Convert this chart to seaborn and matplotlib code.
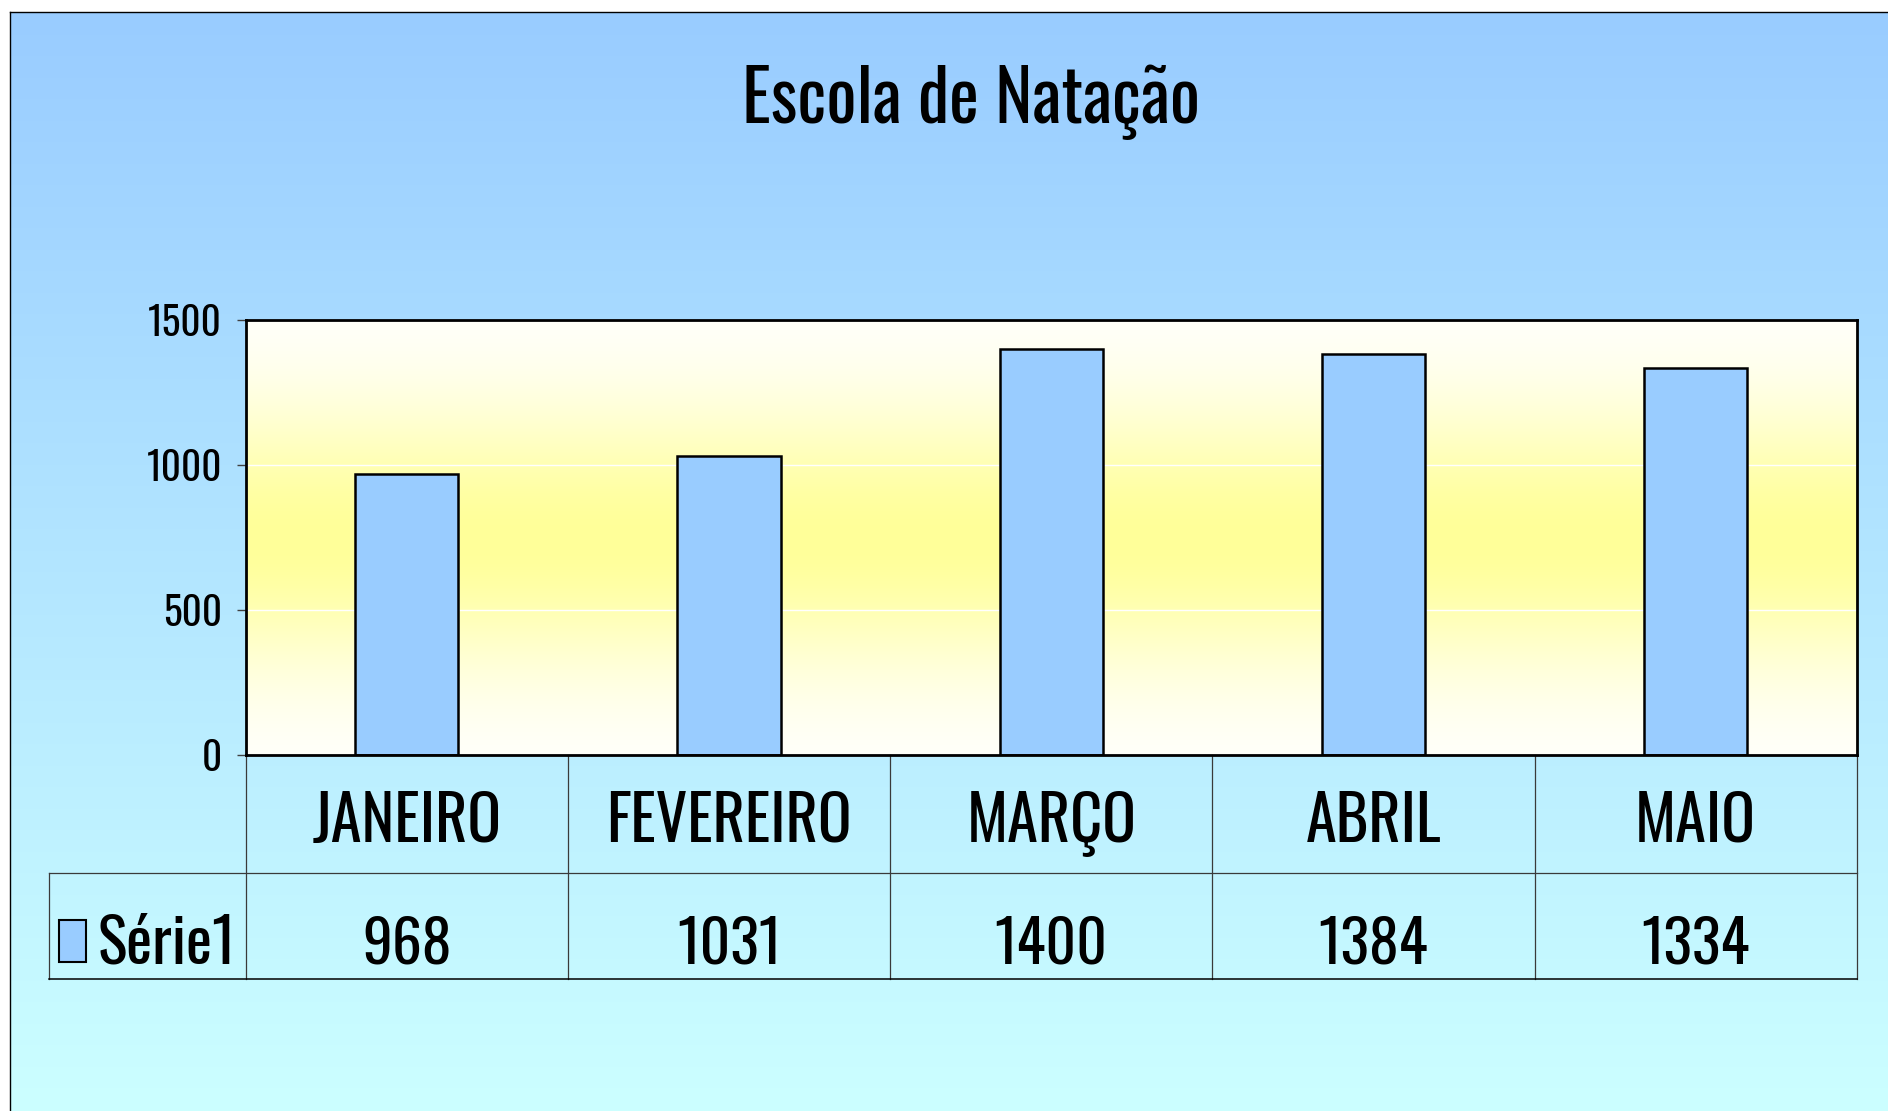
import numpy as np
import matplotlib
matplotlib.use("Agg")
import matplotlib.pyplot as plt
from matplotlib.transforms import blended_transform_factory
from matplotlib.patches import Rectangle
from matplotlib.font_manager import FontProperties, fontManager
from matplotlib.textpath import TextPath
import seaborn as sns
import pandas as pd

# ---- data ----
months = ["JANEIRO", "FEVEREIRO", "MARÇO", "ABRIL", "MAIO"]
values = [968, 1031, 1400, 1384, 1334]
series_name = "Série1"
title = "Escola de Natação"
yticks = [0, 500, 1000, 1500]

# ---- font: a narrow sans ----
available = {f.name for f in fontManager.ttflist}
prefs = ["Oswald", "Sofia Sans Extra Condensed", "Fira Sans Extra Condensed",
         "Barlow Condensed", "Roboto Condensed", "IBM Plex Sans Condensed", "DejaVu Sans"]
main_font = next(p for p in prefs if p in available)
FONT = [main_font, "DejaVu Sans"]
WEIGHT = 300 if main_font == "Oswald" else "normal"
plt.rcParams["font.family"] = FONT
plt.rcParams["font.weight"] = WEIGHT

PX = 100 / 72.0


def fit(text, tw, th, hchar=None):
    fp = FontProperties(family=FONT, weight=WEIGHT)
    w = TextPath((0, 0), text, size=100, prop=fp).get_extents().width * PX
    h = TextPath((0, 0), hchar or text, size=100, prop=fp).get_extents().height * PX
    return 100 * np.sqrt((tw / w) * (th / h))


W, H = 1888, 1111
fig = plt.figure(figsize=(W / 100, H / 100), dpi=100)
fig.patch.set_facecolor("white")

# ---- figure background gradient ----
bg = fig.add_axes([10 / W, 0, 1 - 10 / W, (H - 12) / H], zorder=0)
top_c = np.array([153, 204, 255]) / 255
bot_c = np.array([204, 255, 255]) / 255
s = np.linspace(0, 1, 512)[:, None]
grad = top_c[None, :] * (1 - s) + bot_c[None, :] * s
bg.imshow(grad[:, None, :], aspect="auto", extent=[0, 1, 0, 1], origin="upper")
bg.set_xlim(0, 1); bg.set_ylim(0, 1)
bg.set_xticks([]); bg.set_yticks([])
for k in ["right", "bottom"]:
    bg.spines[k].set_visible(False)
for k in ["top", "left"]:
    bg.spines[k].set_color("black"); bg.spines[k].set_linewidth(1.0)

# ---- main axes ----
ax_l, ax_r, ax_t, ax_b = 245.7, 1856.7, 320, 755
ax = fig.add_axes([ax_l / W, (H - ax_b) / H, (ax_r - ax_l) / W, (ax_b - ax_t) / H], zorder=1)

t = np.abs(np.linspace(-1, 1, 512))
f = np.exp(-(t / 0.6) ** 2)
white = np.array([1.0, 1.0, 1.0])
yellow = np.array([255, 255, 153]) / 255
pg = white[None, :] * (1 - f[:, None]) + yellow[None, :] * f[:, None]
ax.imshow(pg[:, None, :], aspect="auto", extent=[0, 1, 0, 1], transform=ax.transAxes,
          zorder=0, origin="upper")

df = pd.DataFrame({"mes": months, "valor": values})
sns.barplot(data=df, x="mes", y="valor", color="#99CCFF", saturation=1, width=0.32,
            edgecolor="black", linewidth=1.8, ax=ax, zorder=3)

ax.set_xlim(-0.5, len(months) - 0.5)
ax.set_ylim(0, 1500)
ax.set_yticks(yticks)
ax.set_yticklabels([str(v) for v in yticks])
ax.set_xticks([])
ax.set_xlabel(""); ax.set_ylabel("")
ax.yaxis.grid(True, color="white", linewidth=1.0, zorder=1)
ax.set_axisbelow(True)
tick_fs = fit("1500", 65, 35)
ax.tick_params(axis="y", length=6.3, width=1.0, color="#404040", pad=10.8,
               labelsize=tick_fs, labelcolor="black")
for sp in ax.spines.values():
    sp.set_color("black"); sp.set_linewidth(2.0); sp.set_zorder(5)

# ---- data table below axes ----
axh = ax_b - ax_t
axw = ax_r - ax_l
y_row1 = -(872.7 - ax_b) / axh
y_bot = -(979 - ax_b) / axh
x_leg = (48.8 - ax_l) / axw
tr = blended_transform_factory(ax.transData, ax.transAxes)
line_c = "#3a3a3a"
for i in range(len(months) + 1):
    ax.plot([i - 0.5, i - 0.5], [0, y_bot], transform=tr, color=line_c, lw=0.9, clip_on=False)
ax.plot([x_leg, x_leg], [y_row1, y_bot], transform=ax.transAxes, color=line_c, lw=0.9, clip_on=False)
ax.plot([x_leg, 1], [y_row1, y_row1], transform=ax.transAxes, color=line_c, lw=0.9, clip_on=False)
ax.plot([x_leg, 1], [y_bot, y_bot], transform=ax.transAxes, color="black", lw=1.1, clip_on=False)

hdr_fs = fit("JANEIRO", 181, 52, "H")
val_fs = fit("968", 78, 53)
ser_fs = fit(series_name, 128, 52, "S")
y_hdr = -(841.7 - ax_b) / axh
y_val = -(963.3 - ax_b) / axh
for i, (m, v) in enumerate(zip(months, values)):
    ax.text(i, y_hdr, m, transform=tr, ha="center", va="baseline", fontsize=hdr_fs, clip_on=False)
    ax.text(i, y_val, str(v), transform=tr, ha="center", va="baseline", fontsize=val_fs, clip_on=False)

ax.text((97 - ax_l) / axw, -(964 - ax_b) / axh, series_name, transform=ax.transAxes,
        ha="left", va="baseline", fontsize=ser_fs, clip_on=False)
ax.add_patch(Rectangle(((59 - ax_l) / axw, -(962 - ax_b) / axh), 27 / axw, 42 / axh,
                       transform=ax.transAxes, facecolor="#99CCFF", edgecolor="black",
                       lw=1.5, clip_on=False))

# ---- title ----
title_fs = fit(title, 432, 60, "E")
fig.text(971 / W, (H - 123) / H, title, ha="center", va="baseline", fontsize=title_fs)

fig.savefig("out.png", dpi=100)
